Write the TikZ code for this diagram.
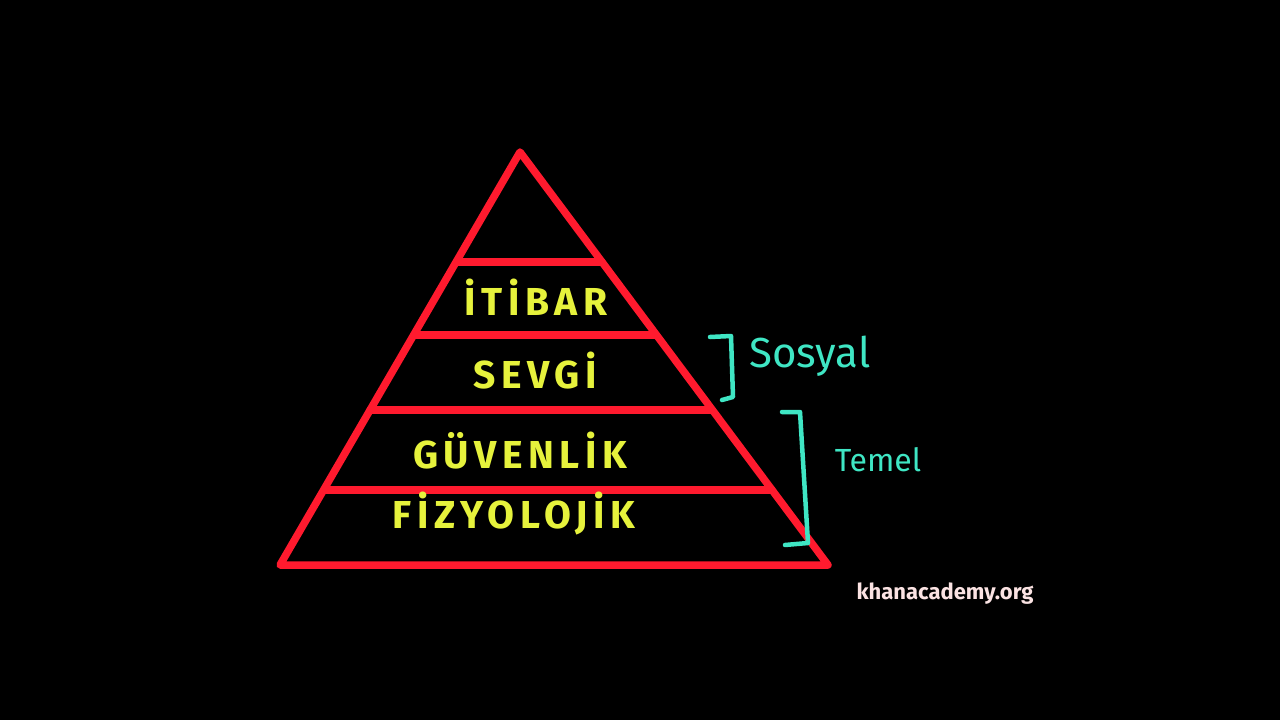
\documentclass[tikz,border=0pt]{standalone}
\usepackage{fontspec}
\setmainfont{Fira Sans}
\newfontfamily\handfont[LetterSpace=14]{Fira Sans}
\newfontfamily\labfont{Fira Sans}
\definecolor{pyrred}{HTML}{FF1A2E}
\definecolor{lvlyellow}{HTML}{E6F23C}
\definecolor{brcyan}{HTML}{3FE6C4}
\definecolor{khanpink}{HTML}{FBE3E3}
\begin{document}
\begin{tikzpicture}[x=1pt,y=-1pt,
  pyr/.style={draw=pyrred,line width=7.5pt,line join=round,line cap=round},
  lvl/.style={text=lvlyellow,font=\handfont\bfseries\fontsize{39}{42}\selectfont,inner sep=0pt,anchor=center},
  brk/.style={draw=brcyan,line width=4.5pt,line join=round,line cap=round},
  grp/.style={text=brcyan,inner sep=0pt,anchor=center}]
\fill[black] (0,0) rectangle (1280,720);
\useasboundingbox (0,0) rectangle (1280,720);
% pyramid corners
\coordinate (apex) at (520,152);
\coordinate (bl) at (280,565);
\coordinate (br) at (828,565);
% level lines
\coordinate (l1a) at (458,262); \coordinate (l1b) at (602,262);
\coordinate (l2a) at (414,335); \coordinate (l2b) at (656,335);
\coordinate (l3a) at (370,410); \coordinate (l3b) at (712,410);
\coordinate (l4a) at (324,490); \coordinate (l4b) at (772,490);
\draw[pyr] (apex) -- (bl) -- (br) -- cycle;
\draw[pyr] (l1a) -- (l1b);
\draw[pyr] (l2a) -- (l2b);
\draw[pyr] (l3a) -- (l3b);
\draw[pyr] (l4a) -- (l4b);
% labels
\node[lvl] (itibar) at (536,297) {İTİBAR};
\node[lvl] (sevgi) at (535,371) {SEVGİ};
\node[lvl] (guvenlik) at (520,451) {GÜVENLİK};
\node[lvl] (fizyolojik) at (514,514) {FİZYOLOJİK};
% brackets
\coordinate (s1) at (710,337); \coordinate (s2) at (731,336);
\coordinate (s3) at (733,397); \coordinate (s4) at (722,400);
\draw[brk] (s1) -- (s2) -- (s3) -- (s4);
\coordinate (t1) at (782,412); \coordinate (t2) at (800,412);
\coordinate (t3) at (808,543); \coordinate (t4) at (785,545);
\draw[brk] (t1) -- (t2) -- (t3) -- (t4);
\node[grp,font=\labfont\fontsize{42}{46}\selectfont] (sosyal) at (810,356) {Sosyal};
\node[grp,font=\labfont\fontsize{32}{36}\selectfont] (temel) at (878,460) {Temel};
% watermark
\node[text=khanpink,font=\labfont\bfseries\fontsize{22}{26}\selectfont,inner sep=0pt] (khan) at (945,594) {khanacademy.org};
\end{tikzpicture}
\end{document}
